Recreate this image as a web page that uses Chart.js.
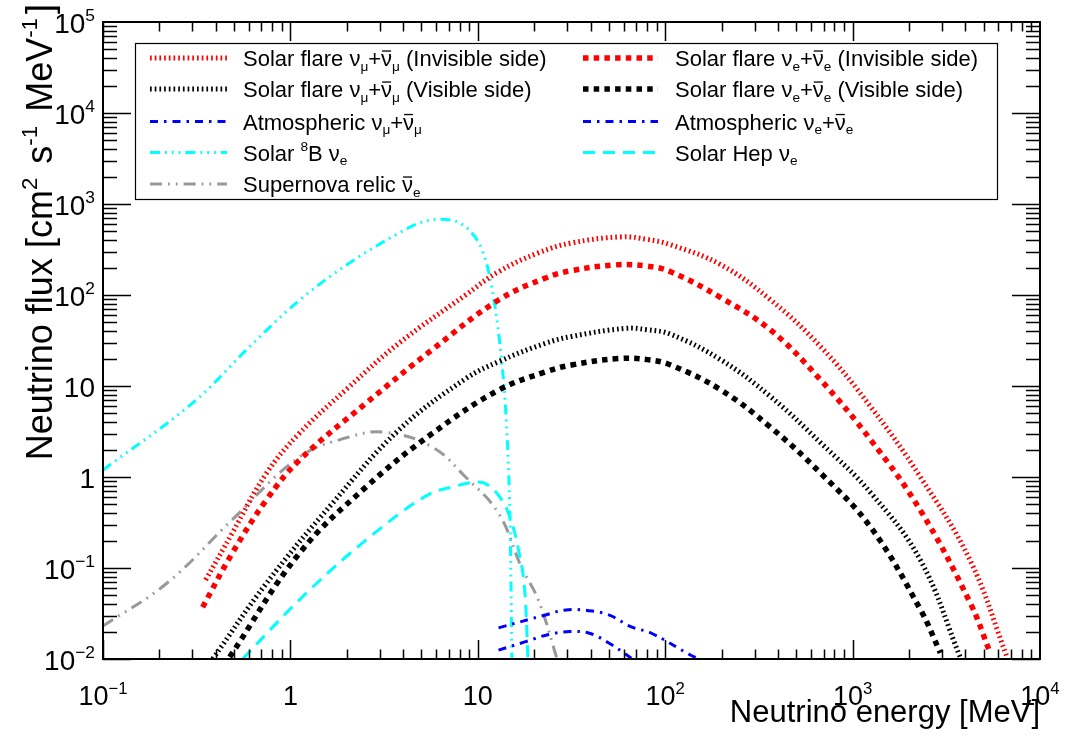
<!DOCTYPE html>
<html lang="en">
<head>
<meta charset="UTF-8">
<title>Neutrino flux</title>
<script src="https://cdn.jsdelivr.net/npm/chart.js"></script>
<style>
    html, body { margin: 0; padding: 0; background: #fff; }
    #caixa { width: 1065px; height: 738px; position: relative; }
</style>
</head>
<body>
<div id="caixa"><canvas id="grafico"></canvas></div>
<script>
// energies [MeV] and fluxes [cm-2 s-1 MeV-1]
const flareMuInvE = [0.353, 0.49, 0.745, 1.12, 2.06, 3.8, 8.6, 12.9, 21, 31.6, 58, 80, 107, 199, 366, 676, 1250, 2300, 4250, 6670];
const flareMuInvF = [0.074, 0.243, 1.1, 3.04, 9.8, 29.6, 100, 180, 290, 373, 435, 408, 357, 214, 88, 27, 5.9, 1.0, 0.12, 0.0105];

const flareEInvE = [0.34, 0.49, 0.745, 1.12, 2.54, 5.7, 12.9, 23, 31.6, 54, 80, 107, 199, 366, 676, 1250, 2300, 4250, 5420];
const flareEInvF = [0.037, 0.146, 0.56, 1.54, 6.5, 25, 88, 154, 185, 214, 208, 180, 93, 41, 11.6, 2.55, 0.43, 0.041, 0.0117];

const flareMuVisE = [0.385, 0.745, 1.67, 3.8, 8.6, 12.9, 23, 31.6, 61, 80, 107, 199, 366, 676, 1250, 2300, 3750];
const flareMuVisF = [0.01, 0.068, 0.51, 3.3, 12, 18.5, 29.5, 35, 43, 41.5, 37, 19.3, 7.6, 2.37, 0.67, 0.122, 0.0105];

const flareEVisE = [0.474, 1.12, 2.54, 5.7, 12.9, 23, 31.6, 56, 80, 107, 199, 366, 676, 1250, 2300, 2940];
const flareEVisF = [0.0105, 0.146, 0.78, 3.0, 9.0, 14.3, 17, 20, 19.5, 17, 9.0, 3.5, 1.1, 0.28, 0.035, 0.0117];

const atmMuE = [12.9, 23, 29.5, 39, 50, 66, 84, 137, 150];
const atmMuF = [0.022, 0.0305, 0.0346, 0.034, 0.0305, 0.0225, 0.0193, 0.011, 0.0101];

const atmEE = [12.9, 18, 23.9, 31, 39, 50, 66];
const atmEF = [0.0125, 0.0155, 0.0186, 0.020, 0.0193, 0.015, 0.0102];

const b8E = [0.1, 0.328, 0.605, 1.12, 2.06, 3.8, 4.85, 6.2, 9.3, 11, 12.2, 13.4, 14.2, 14.9, 15.2];
const b8F = [1.19, 7.6, 27, 88, 224, 480, 615, 680, 480, 243, 88, 19, 4.0, 0.24, 0.01];

const hepE = [0.556, 1.12, 2.54, 5.7, 7.0, 10.1, 12.9, 15, 16.6, 18.0, 18.5];
const hepF = [0.01, 0.045, 0.204, 0.67, 0.76, 0.88, 0.63, 0.34, 0.146, 0.041, 0.01];

const relicE = [0.1, 0.219, 0.49, 1.12, 2.06, 3.2, 5.7, 8.6, 12.9, 17.1, 21.0, 26.5];
const relicF = [0.023, 0.068, 0.34, 1.66, 2.75, 3.1, 2.14, 1.0, 0.4, 0.102, 0.045, 0.01];

// axes
const xTickValues = [0.1, 1, 10, 100, 1000, 10000];
const xTickLabels = ['10^{\u22121}', '1', '10', '10^{2}', '10^{3}', '10^{4}'];
const yTickValues = [0.01, 0.1, 1, 10, 100, 1000, 10000, 100000];
const yTickLabels = ['10^{\u22122}', '10^{\u22121}', '1', '10', '10^{2}', '10^{3}', '10^{4}', '10^{5}'];

// legend texts (two columns, filled row by row)
const legendLabels = [
    'Solar flare \u03BD_{\u03BC}+#bar{\u03BD}_{\u03BC} (Invisible side)',
    'Solar flare \u03BD_{e}+#bar{\u03BD}_{e} (Invisible side)',
    'Solar flare \u03BD_{\u03BC}+#bar{\u03BD}_{\u03BC} (Visible side)',
    'Solar flare \u03BD_{e}+#bar{\u03BD}_{e} (Visible side)',
    'Atmospheric \u03BD_{\u03BC}+#bar{\u03BD}_{\u03BC}',
    'Atmospheric \u03BD_{e}+#bar{\u03BD}_{e}',
    'Solar ^{8}B \u03BD_{e}',
    'Solar Hep \u03BD_{e}',
    'Supernova relic #bar{\u03BD}_{e}'
];

const FONTE = '"Liberation Sans", Arial, Helvetica, sans-serif';

function pontos(es, fs) {
    return es.map((e, i) => ({ x: e, y: fs[i] }));
}

// tiny ROOT-like text: ^{..} superscript, _{..} subscript, #bar{..} overline
function partes(str) {
    const segs = [];
    let buf = '';
    let i = 0;
    const flush = () => { if (buf) { segs.push({ t: buf, m: 'n' }); buf = ''; } };
    while (i < str.length) {
        const c = str[i];
        if ((c === '^' || c === '_') && str[i + 1] === '{') {
            flush();
            const fim = str.indexOf('}', i + 2);
            segs.push({ t: str.slice(i + 2, fim), m: c === '^' ? 'sup' : 'sub' });
            i = fim + 1;
        } else if (str.startsWith('#bar{', i)) {
            flush();
            const fim = str.indexOf('}', i + 5);
            segs.push({ t: str.slice(i + 5, fim), m: 'bar' });
            i = fim + 1;
        } else {
            buf += c;
            i++;
        }
    }
    flush();
    return segs;
}

function textoRico(ctx, str, x, y, size, align, extra) {
    const gap = extra || 0;
    const segs = partes(str);
    const fonte = m => ((m === 'sup' || m === 'sub') ? size * 0.62 : size) + 'px ' + FONTE;
    let w = 0;
    segs.forEach(s => {
        ctx.font = fonte(s.m);
        s.w = ctx.measureText(s.t).width + (s.m === 'sup' ? gap : 0);
        w += s.w;
    });
    let cx = align === 'right' ? x - w : (align === 'center' ? x - w / 2 : x);
    ctx.textAlign = 'left';
    ctx.textBaseline = 'alphabetic';
    segs.forEach(s => {
        ctx.font = fonte(s.m);
        const dy = s.m === 'sup' ? -size * 0.42 : (s.m === 'sub' ? size * 0.22 : 0);
        ctx.fillText(s.t, cx, y + dy);
        if (s.m === 'bar') {
            ctx.save();
            ctx.lineWidth = 1.3;
            ctx.setLineDash([]);
            ctx.beginPath();
            ctx.moveTo(cx + 1, y - size * 0.68);
            ctx.lineTo(cx + s.w - 1, y - size * 0.68);
            ctx.stroke();
            ctx.restore();
        }
        cx += s.w;
    });
    return w;
}

const series = [
    { e: flareMuInvE, f: flareMuInvF, cor: '#ff0000', w: 5, dash: [1.7, 3] },
    { e: flareEInvE, f: flareEInvF, cor: '#ff0000', w: 5.5, dash: [5.5, 5.2] },
    { e: flareMuVisE, f: flareMuVisF, cor: '#000000', w: 5, dash: [1.7, 3] },
    { e: flareEVisE, f: flareEVisF, cor: '#000000', w: 5.5, dash: [5.5, 5.2] },
    { e: atmMuE, f: atmMuF, cor: '#0000ff', w: 3, dash: [8, 6, 2.5, 6] },
    { e: atmEE, f: atmEF, cor: '#0000ff', w: 3, dash: [8, 6, 2.5, 6] },
    { e: b8E, f: b8F, cor: '#00ffff', w: 3, dash: [10, 5, 1.8, 5, 1.8, 5, 1.8, 5], steep: true },
    { e: hepE, f: hepF, cor: '#00ffff', w: 3, dash: [12, 8], steep: true },
    { e: relicE, f: relicF, cor: '#999999', w: 3, dash: [12, 6, 1.8, 6, 1.8, 6] }
];

const datasets = series.map((s, i) => ({
    label: legendLabels[i],
    data: pontos(s.e, s.f),
    borderColor: s.cor,
    borderWidth: s.w,
    borderDash: s.dash,
    fill: false,
    pointRadius: 0,
    tension: 0.4,
    cubicInterpolationMode: s.steep ? 'monotone' : 'default'
}));

// frame, inward ticks and tick labels
const molduraPlugin = {
    id: 'moldura',
    afterDatasetsDraw(chart) {
        const { ctx, chartArea: a } = chart;
        const x = chart.scales.x, y = chart.scales.y;
        ctx.save();
        ctx.strokeStyle = '#000';
        ctx.fillStyle = '#000';
        ctx.lineWidth = 1.5;
        ctx.setLineDash([]);
        ctx.beginPath();
        for (let d = 0.1; d < 10000; d *= 10) {
            for (let k = 1; k <= 9; k++) {
                const px = Math.round(x.getPixelForValue(k * d)) + 0.5;
                const len = k === 1 ? 19 : 9.5;
                ctx.moveTo(px, a.bottom); ctx.lineTo(px, a.bottom - len);
                ctx.moveTo(px, a.top); ctx.lineTo(px, a.top + len);
            }
        }
        for (let d = 0.01; d < 100000; d *= 10) {
            for (let k = 1; k <= 9; k++) {
                const py = Math.round(y.getPixelForValue(k * d)) + 0.5;
                const len = k === 1 ? 28 : 14;
                ctx.moveTo(a.left, py); ctx.lineTo(a.left + len, py);
                ctx.moveTo(a.right, py); ctx.lineTo(a.right - len, py);
            }
        }
        ctx.stroke();
        ctx.lineWidth = 2;
        ctx.strokeRect(a.left, a.top, a.right - a.left, a.bottom - a.top);

        xTickValues.forEach((v, i) => {
            textoRico(ctx, xTickLabels[i], x.getPixelForValue(v), a.bottom + 46, 27, 'center');
        });
        yTickValues.forEach((v, i) => {
            textoRico(ctx, yTickLabels[i], a.left - 8, y.getPixelForValue(v) + 11, 28, 'right');
        });

        // axis titles
        textoRico(ctx, 'Neutrino energy [MeV]', a.right, 722, 31, 'right');
        ctx.save();
        ctx.translate(52, 4);
        ctx.rotate(-Math.PI / 2);
        textoRico(ctx, 'Neutrino flux [cm^{2} s^{-1} MeV^{-1}]', 0, 0, 36, 'right', 4);
        ctx.restore();
        ctx.restore();
    }
};

// ROOT style legend box
const legendaPlugin = {
    id: 'legenda',
    afterDraw(chart) {
        const ctx = chart.ctx;
        ctx.save();
        ctx.fillStyle = '#fff';
        ctx.fillRect(135.5, 43.5, 862, 156);
        ctx.strokeStyle = '#000';
        ctx.lineWidth = 1.2;
        ctx.strokeRect(135.5, 43.5, 862, 156);
        const linhas = [58, 89, 121.5, 152.5, 184];
        const amostraX = [[150, 227], [583, 658]];
        const textoX = [243, 675];
        chart.data.datasets.forEach((ds, i) => {
            const col = i % 2, lin = Math.floor(i / 2);
            const yy = linhas[lin];
            ctx.strokeStyle = ds.borderColor;
            ctx.lineWidth = ds.borderWidth;
            ctx.setLineDash(ds.borderDash);
            ctx.beginPath();
            ctx.moveTo(amostraX[col][0], yy);
            ctx.lineTo(amostraX[col][1], yy);
            ctx.stroke();
            ctx.setLineDash([]);
            ctx.fillStyle = '#000';
            ctx.strokeStyle = '#000';
            textoRico(ctx, ds.label, textoX[col], yy + 8, 22, 'left');
        });
        ctx.restore();
    }
};

new Chart(document.getElementById('grafico'), {
    type: 'line',
    data: { datasets: datasets },
    options: {
        responsive: true,
        maintainAspectRatio: false,
        animation: false,
        layout: { padding: { top: 22, right: 25, left: 0, bottom: 0 } },
        plugins: { legend: { display: false }, tooltip: { enabled: false } },
        scales: {
            x: {
                type: 'logarithmic',
                min: 0.1,
                max: 10000,
                grid: { display: false },
                border: { display: false },
                ticks: { display: false },
                afterBuildTicks: s => { s.ticks = xTickValues.map(v => ({ value: v })); },
                afterFit: s => { s.height = 79; }
            },
            y: {
                type: 'logarithmic',
                min: 0.01,
                max: 100000,
                grid: { display: false },
                border: { display: false },
                ticks: { display: false },
                afterBuildTicks: s => { s.ticks = yTickValues.map(v => ({ value: v })); },
                afterFit: s => { s.width = 103; }
            }
        }
    },
    plugins: [molduraPlugin, legendaPlugin]
});
</script>
</body>
</html>
